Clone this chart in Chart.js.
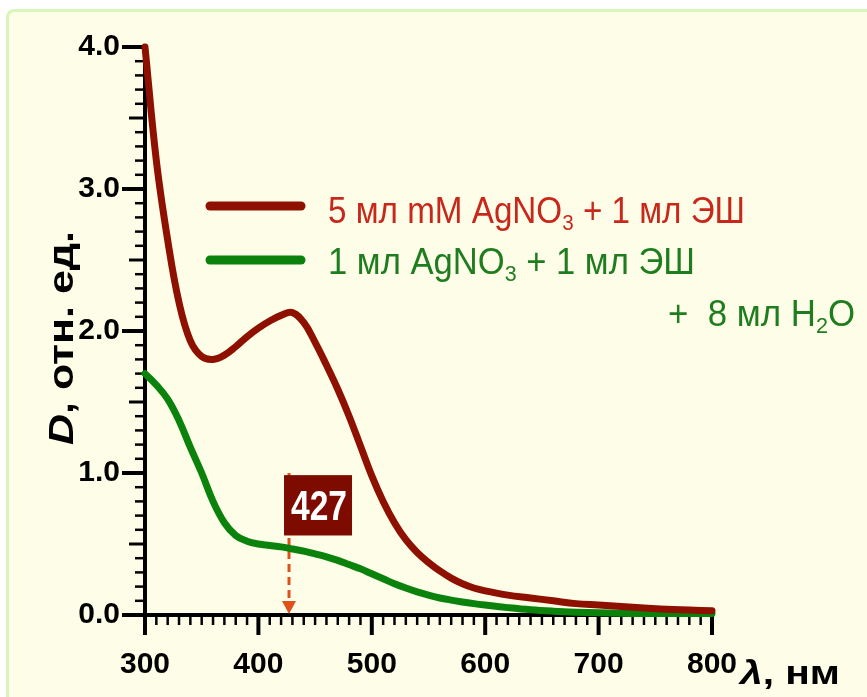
<!DOCTYPE html>
<html>
<head>
<meta charset="utf-8">
<script src="https://cdn.jsdelivr.net/npm/chart.js@4.4.1/dist/chart.umd.min.js"></script>
<style>
  html, body { margin: 0; padding: 0; background: #ffffff; }
  #wrap { position: relative; width: 867px; height: 697px; overflow: hidden; }
  #panel {
    position: absolute; left: 6px; top: 9px; width: 900px; height: 740px;
    background: #fefee8; border: 3px solid #d7f6b9; border-radius: 8px;
  }
  #chart { position: absolute; left: 0; top: 0; }
</style>
</head>
<body>
<div id="wrap">
  <div id="panel"></div>
  <canvas id="chart" width="867" height="697"></canvas>
</div>
<script>
// wavelengths, nm
const wavelengths = [300, 310, 320, 330, 340, 350, 360, 370, 380, 390, 400, 410, 420, 430, 440, 450,
  460, 470, 480, 490, 500, 510, 520, 530, 540, 550, 560, 570, 580, 590, 600,
  620, 640, 660, 680, 700, 720, 740, 760, 780, 800];

// 5 мл mM AgNO3 + 1 мл ЭШ
const redValues = [4.00, 3.20, 2.64, 2.20, 1.93, 1.82, 1.80, 1.83, 1.89, 1.96, 2.02, 2.07, 2.11, 2.13, 2.06, 1.92,
  1.76, 1.59, 1.40, 1.19, 0.98, 0.80, 0.65, 0.53, 0.44, 0.37, 0.31, 0.26, 0.22, 0.19, 0.17,
  0.14, 0.12, 0.10, 0.08, 0.07, 0.06, 0.05, 0.04, 0.035, 0.03];

// 1 мл AgNO3 + 1 мл ЭШ + 8 мл H2O
const greenValues = [1.70, 1.62, 1.52, 1.37, 1.18, 1.00, 0.80, 0.65, 0.56, 0.52, 0.50, 0.49, 0.48, 0.465, 0.45, 0.43,
  0.41, 0.385, 0.355, 0.325, 0.29, 0.255, 0.22, 0.19, 0.163, 0.14, 0.12, 0.105, 0.092, 0.08, 0.07,
  0.052, 0.037, 0.027, 0.02, 0.015, 0.012, 0.01, 0.01, 0.01, 0.01];

const xTicks = [300, 400, 500, 600, 700, 800];
const yTicks = [0, 1, 2, 3, 4];
const peakWavelength = 427;

const RED = '#8e1000';
const GREEN = '#0b820b';

function toPoints(vals) {
  return wavelengths.map((w, i) => ({ x: w, y: vals[i] }));
}

// draw a row of text pieces; sub pieces are smaller and lowered; fitted to a width
function drawRich(ctx, pieces, x, y, size, family, color, width) {
  ctx.save();
  ctx.fillStyle = color;
  ctx.textBaseline = 'alphabetic';
  ctx.textAlign = 'left';
  let total = 0;
  pieces.forEach((p) => {
    ctx.font = (p.style || '') + ' ' + (p.sub ? size * 0.62 : size) + 'px ' + family;
    total += ctx.measureText(p.t).width;
  });
  ctx.translate(x, y);
  if (width) ctx.scale(width / total, 1);
  let cx = 0;
  pieces.forEach((p) => {
    ctx.font = (p.style || '') + ' ' + (p.sub ? size * 0.62 : size) + 'px ' + family;
    ctx.fillText(p.t, cx, p.sub ? size * 0.2 : 0);
    cx += ctx.measureText(p.t).width;
  });
  ctx.restore();
}

const decorPlugin = {
  id: 'decor',
  beforeDatasetsDraw(chart) {
    const ctx = chart.ctx;
    const xs = chart.scales.x;
    const ys = chart.scales.y;
    const x0 = xs.getPixelForValue(300);
    const y0 = ys.getPixelForValue(0);
    ctx.save();
    ctx.strokeStyle = '#000';
    ctx.lineCap = 'butt';
    // y ticks
    for (let i = 0; i <= 40; i++) {
      const v = i / 10;
      const py = ys.getPixelForValue(v);
      let len = 10, lw = 2.5;
      if (i % 10 === 0) { len = 23; lw = 4; } else if (i % 5 === 0) { len = 16; lw = 3; }
      ctx.lineWidth = lw;
      ctx.beginPath();
      ctx.moveTo(x0, py);
      ctx.lineTo(x0 - len, py);
      ctx.stroke();
    }
    // x ticks
    for (let w = 300; w <= 800; w += 10) {
      const px = xs.getPixelForValue(w);
      let len = 10, lw = 2.5;
      if (w % 100 === 0) { len = 20; lw = 4; }
      ctx.lineWidth = lw;
      ctx.beginPath();
      ctx.moveTo(px, y0);
      ctx.lineTo(px, y0 + len);
      ctx.stroke();
    }
    ctx.restore();

    // arrow for the peak
    const ax = xs.getPixelForValue(peakWavelength);
    const top = ys.getPixelForValue(1.0);
    ctx.save();
    ctx.strokeStyle = '#e0501a';
    ctx.fillStyle = '#e0501a';
    ctx.lineWidth = 3;
    ctx.setLineDash([8, 5]);
    ctx.beginPath();
    ctx.moveTo(ax, top);
    ctx.lineTo(ax, y0 - 12);
    ctx.stroke();
    ctx.setLineDash([]);
    ctx.beginPath();
    ctx.moveTo(ax - 7, y0 - 14);
    ctx.lineTo(ax + 7, y0 - 14);
    ctx.lineTo(ax, y0 - 1);
    ctx.closePath();
    ctx.fill();
    ctx.restore();
  },
  afterDatasetsDraw(chart) {
    const ctx = chart.ctx;
    const xs = chart.scales.x;
    const ys = chart.scales.y;
    const ax = xs.getPixelForValue(peakWavelength);
    const bTop = ys.getPixelForValue(0.985);
    const bBot = ys.getPixelForValue(0.56);
    ctx.save();
    ctx.fillStyle = '#7e0b00';
    ctx.fillRect(ax - 5, bTop, 68, bBot - bTop);
    ctx.restore();
    drawRich(ctx, [{ t: String(peakWavelength), style: 'bold' }], ax + 2, bBot - 15, 42,
      '"Liberation Sans Narrow", "Liberation Sans", Arial', '#ffffff', 56);

    // legend
    ctx.save();
    ctx.lineCap = 'round';
    ctx.lineWidth = 9;
    ctx.strokeStyle = RED;
    ctx.beginPath(); ctx.moveTo(210, 206); ctx.lineTo(301, 206); ctx.stroke();
    ctx.strokeStyle = GREEN;
    ctx.beginPath(); ctx.moveTo(210, 260); ctx.lineTo(301, 260); ctx.stroke();
    ctx.restore();
    const fam = '"Liberation Sans Narrow", "Liberation Sans", Arial';
    drawRich(ctx, [{ t: '5 мл mM AgNO' }, { t: '3', sub: true }, { t: ' + 1 мл ЭШ' }],
      328, 223, 36, fam, '#c8281c', 417);
    drawRich(ctx, [{ t: '1 мл AgNO' }, { t: '3', sub: true }, { t: ' + 1 мл ЭШ' }],
      328, 274, 36, fam, '#1f7d1f', 367);
    drawRich(ctx, [{ t: '+  8 мл H' }, { t: '2', sub: true }, { t: 'O' }],
      668, 326, 36, fam, '#1f7d1f', 187);

    // axis titles
    ctx.save();
    ctx.translate(73, 338);
    ctx.rotate(-Math.PI / 2);
    drawRich(ctx, [{ t: 'D', style: 'italic bold' }, { t: ', отн. ед.', style: 'bold' }],
      -107, 0, 35, '"Liberation Sans", Arial', '#000', 214);
    ctx.restore();

    drawRich(ctx, [{ t: 'λ', style: 'italic bold' }, { t: ', нм', style: 'bold' }],
      740, 684, 33, '"Liberation Sans", Arial', '#000', 100);
  }
};

new Chart(document.getElementById('chart'), {
  type: 'line',
  data: {
    datasets: [
      { label: '5 мл mM AgNO3 + 1 мл ЭШ', data: toPoints(redValues), borderColor: RED, borderWidth: 7,
        pointRadius: 0, tension: 0.4, borderCapStyle: 'round', borderJoinStyle: 'round', clip: false },
      { label: '1 мл AgNO3 + 1 мл ЭШ + 8 мл H2O', data: toPoints(greenValues), borderColor: GREEN, borderWidth: 7,
        pointRadius: 0, tension: 0.4, borderCapStyle: 'round', borderJoinStyle: 'round', clip: false },
    ],
  },
  options: {
    responsive: false,
    animation: false,
    layout: { padding: { left: 0, top: 47, right: 155, bottom: 0 } },
    plugins: { legend: { display: false }, tooltip: { enabled: false } },
    scales: {
      x: {
        type: 'linear', min: 300, max: 800,
        afterFit: (s) => { s.height = 82; },
        afterBuildTicks: (s) => { s.ticks = xTicks.map((v) => ({ value: v })); },
        grid: { display: false },
        border: { display: true, color: '#000', width: 4 },
        ticks: { color: '#000', padding: 24, maxRotation: 0, font: { family: '"Liberation Sans", Arial', size: 30, weight: 'bold' } },
      },
      y: {
        type: 'linear', min: 0, max: 4,
        afterFit: (s) => { s.width = 145; },
        afterBuildTicks: (s) => { s.ticks = yTicks.map((v) => ({ value: v })); },
        grid: { display: false },
        border: { display: true, color: '#000', width: 4 },
        ticks: { color: '#000', padding: 17, callback: (v) => v.toFixed(1), font: { family: '"Liberation Sans", Arial', size: 30, weight: 'bold' } },
      },
    },
  },
  plugins: [decorPlugin],
});
</script>
</body>
</html>
